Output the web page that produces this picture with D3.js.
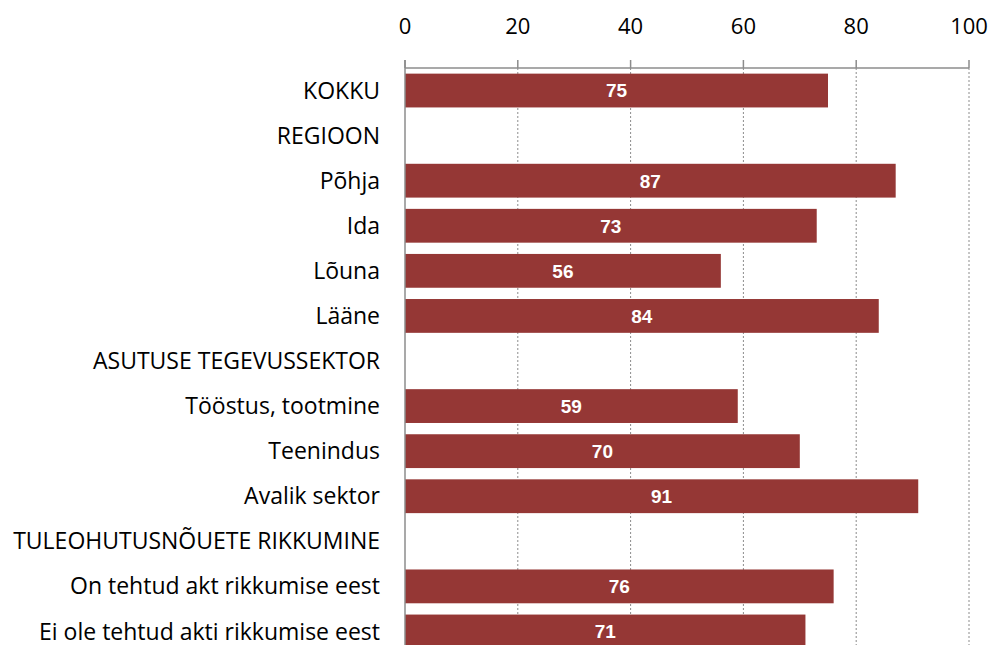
<!DOCTYPE html>
<html>
<head>
<meta charset="utf-8">
<script src="https://cdn.jsdelivr.net/npm/d3@7"></script>
<style>
  body { margin: 0; background: #fff; }
  text { font-family: "Open Sans", "Noto Sans", sans-serif; }
</style>
</head>
<body>
<svg id="chart" width="992" height="645"></svg>
<script>
// categories top to bottom, null value = section heading without bar
var categories = ["KOKKU", "REGIOON", "Põhja", "Ida", "Lõuna", "Lääne",
    "ASUTUSE TEGEVUSSEKTOR", "Tööstus, tootmine", "Teenindus", "Avalik sektor",
    "TULEOHUTUSNÕUETE RIKKUMINE", "On tehtud akt rikkumise eest", "Ei ole tehtud akti rikkumise eest"];
var values = [75, null, 87, 73, 56, 84, null, 59, 70, 91, null, 76, 71];
var ticks = [0, 20, 40, 60, 80, 100];

var svg = d3.select("#chart");

var x = d3.scaleLinear().domain([0, 100]).range([405, 969]);
var y = d3.scaleBand().domain(d3.range(categories.length)).range([68, 654]).paddingInner(0.25).paddingOuter(0.125);

//dotted grid lines
svg.selectAll(".grid")
    .data(ticks.slice(1)).enter()
    .append("line")
    .attr("x1", d => x(d)).attr("x2", d => x(d))
    .attr("y1", 68).attr("y2", 645)
    .attr("stroke", "#8c8c8c")
    .attr("stroke-width", 1)
    .attr("stroke-dasharray", "2,2");

//bars
var rows = categories.map((c, i) => ({cat: c, v: values[i], i: i}));
var withBars = rows.filter(d => d.v !== null);

svg.selectAll(".bar")
    .data(withBars).enter()
    .append("rect")
    .attr("x", x(0))
    .attr("y", d => y(d.i))
    .attr("width", d => x(d.v) - x(0))
    .attr("height", y.bandwidth())
    .attr("fill", "#953735");

//value labels inside bars
svg.selectAll(".val")
    .data(withBars).enter()
    .append("text")
    .attr("x", d => x(d.v / 2))
    .attr("y", d => y(d.i) + y.bandwidth() / 2)
    .attr("dy", "0.36em")
    .attr("text-anchor", "middle")
    .attr("fill", "#fff")
    .attr("font-weight", "bold")
    .style("font-family", "'Liberation Sans', Arial, sans-serif")
    .attr("font-size", 19)
    .text(d => d.v);

//top axis
svg.append("line")
    .attr("x1", x(0)).attr("x2", x(100))
    .attr("y1", 68).attr("y2", 68)
    .attr("stroke", "#8c8c8c").attr("stroke-width", 1.5);
svg.selectAll(".tick")
    .data(ticks).enter()
    .append("line")
    .attr("x1", d => x(d)).attr("x2", d => x(d))
    .attr("y1", 60).attr("y2", 68)
    .attr("stroke", "#8c8c8c").attr("stroke-width", 1.5);
svg.selectAll(".ticklabel")
    .data(ticks).enter()
    .append("text")
    .attr("x", d => x(d))
    .attr("y", 34)
    .attr("text-anchor", "middle")
    .attr("font-size", 22)
    .attr("fill", "#000")
    .text(d => d);

//left axis line
svg.append("line")
    .attr("x1", x(0)).attr("x2", x(0))
    .attr("y1", 60).attr("y2", 645)
    .attr("stroke", "#8c8c8c").attr("stroke-width", 1.5);

//category labels
svg.selectAll(".cat")
    .data(rows).enter()
    .append("text")
    .attr("x", 380)
    .attr("y", d => y(d.i) + y.bandwidth() / 2)
    .attr("dy", "0.35em")
    .attr("text-anchor", "end")
    .attr("font-size", 23)
    .attr("fill", "#000")
    .text(d => d.cat);
</script>
</body>
</html>
